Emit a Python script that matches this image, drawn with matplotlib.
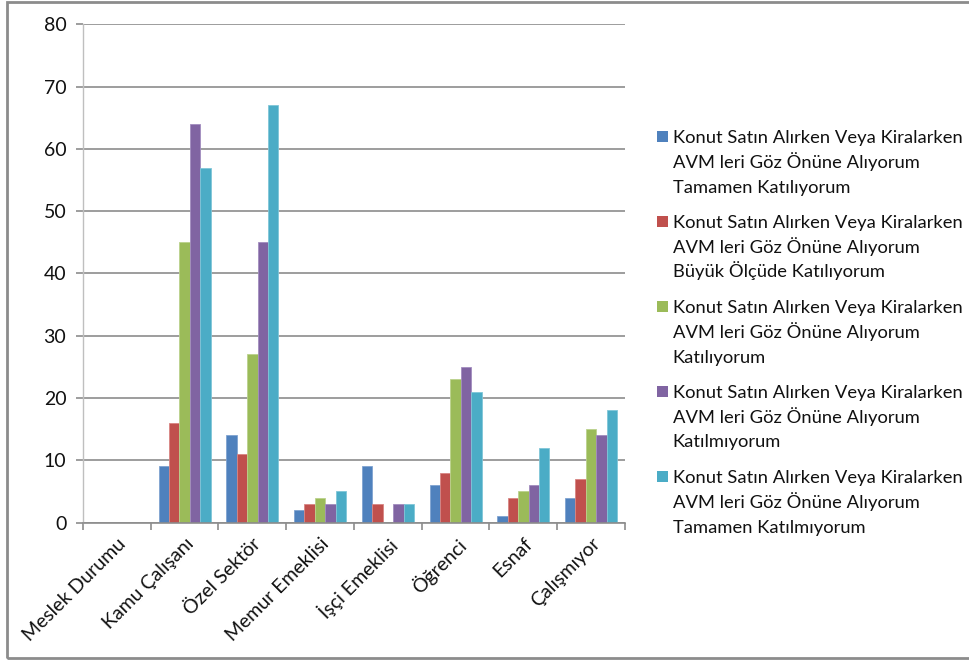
import matplotlib
matplotlib.use("Agg")
import matplotlib.pyplot as plt
from matplotlib.patches import Rectangle
import numpy as np

categories = ["Meslek Durumu", "Kamu Çalışanı", "Özel Sektör", "Memur Emeklisi",
              "İşçi Emeklisi", "Öğrenci", "Esnaf", "Çalışmıyor"]

prefix = "Konut Satın Alırken Veya Kiralarken\nAVM leri Göz Önüne Alıyorum\n"
series_names = [
    prefix + "Tamamen Katılıyorum",
    prefix + "Büyük Ölçüde Katılıyorum",
    prefix + "Katılıyorum",
    prefix + "Katılmıyorum",
    prefix + "Tamamen Katılmıyorum",
]

tamamen_katiliyorum = [0, 9, 14, 2, 9, 6, 1, 4]
buyuk_olcude_katiliyorum = [0, 16, 11, 3, 3, 8, 4, 7]
katiliyorum = [0, 45, 27, 4, 0, 23, 5, 15]
katilmiyorum = [0, 64, 45, 3, 3, 25, 6, 14]
tamamen_katilmiyorum = [0, 57, 67, 5, 3, 21, 12, 18]

series_values = [tamamen_katiliyorum, buyuk_olcude_katiliyorum, katiliyorum,
                 katilmiyorum, tamamen_katilmiyorum]
colors = ["#4F81BD", "#C0504D", "#9BBB59", "#8064A2", "#4BACC6"]
edge_colors = ["#7FA3D1", "#D88583", "#BBD28C", "#A28CBF", "#80C6D8"]

plt.rcParams["font.family"] = ["Lato", "DejaVu Sans"]
TEXT = "#111111"

W, H = 969, 662
fig = plt.figure(figsize=(W / 100, H / 100), dpi=100)
ax = fig.add_axes([83 / W, 1 - 522.5 / H, (625 - 83) / W, (522.5 - 24.3) / H])

n = len(series_values)
bw = 1 / (n + 1.5)
x = np.arange(len(categories))
for j, (vals, c, ec) in enumerate(zip(series_values, colors, edge_colors)):
    ax.bar(x + (j - (n - 1) / 2) * bw, vals, width=bw, color=c,
           edgecolor=ec, linewidth=0.6, zorder=3)

ax.set_xlim(-0.5, len(categories) - 0.5)
ax.set_ylim(0, 80)
ax.set_yticks(np.arange(0, 81, 10))
ax.yaxis.grid(True, color="#8C8C8C", linewidth=1.2, zorder=0)
ax.tick_params(axis="y", length=5, width=1.2, color="#8C8C8C", pad=7,
               labelsize=14, labelcolor=TEXT)

# category boundaries carry the tick marks; labels sit at category centres
ax.set_xticks(np.arange(-0.5, len(categories), 1.0))
ax.set_xticklabels([])
ax.tick_params(axis="x", which="major", length=5, width=1.2, color="#8C8C8C")
ax.set_xticks(x, minor=True)
ax.set_xticklabels(categories, minor=True, rotation=45, ha="right",
                   rotation_mode="anchor", fontsize=14, color=TEXT)
ax.tick_params(axis="x", which="minor", length=0, pad=9)

for side in ("top", "right"):
    ax.spines[side].set_visible(False)
ax.spines["left"].set_color("#BFBFBF")
ax.spines["left"].set_linewidth(1.0)
ax.spines["bottom"].set_color("#8C8C8C")
ax.spines["bottom"].set_linewidth(1.2)
ax.spines["bottom"].set_zorder(4)

# legend drawn entry by entry: swatch beside the first line of each label
entry_step = 85.0
line_step = 24.6
for j, (name, c) in enumerate(zip(series_names, colors)):
    base = 143.3 + j * entry_step
    fig.patches.append(Rectangle((657.3 / W, 1 - (base - 1.6) / H), 10.4 / W, 10.6 / H,
                                 transform=fig.transFigure, facecolor=c,
                                 edgecolor="none"))
    for k, line in enumerate(name.split("\n")):
        fig.text(672.7 / W, 1 - (base + k * line_step) / H, line,
                 ha="left", va="baseline", fontsize=13.2, color=TEXT)

# chart frame
fig.patches.append(Rectangle((7 / W, 1 - 658 / H), (W + 5) / W, (658 - 2) / H,
                             transform=fig.transFigure, facecolor="none",
                             edgecolor="#8C8C8C", linewidth=2.0))

fig.savefig("out.png", dpi=100)
